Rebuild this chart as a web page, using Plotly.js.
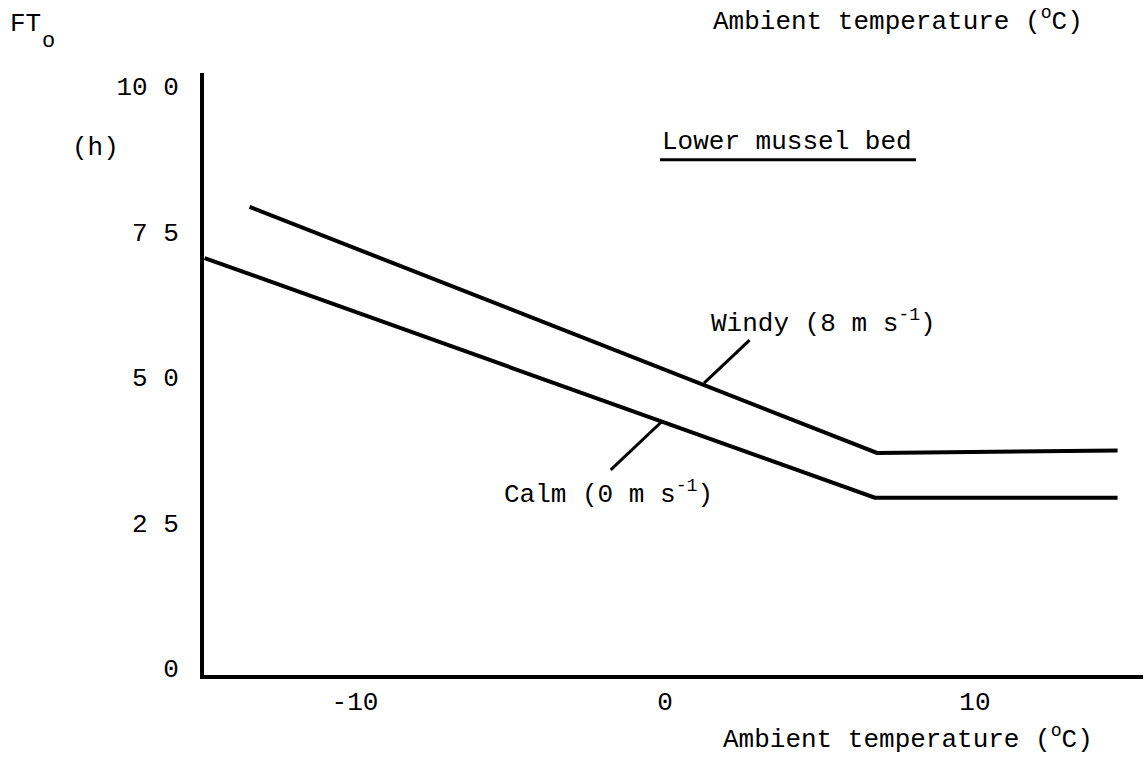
<!DOCTYPE html>
<html><head><meta charset="utf-8">
<script src="https://cdn.plot.ly/plotly-3.0.1.min.js"></script>
<style>html,body{margin:0;padding:0;background:#fff}</style>
</head><body><div id="chart" style="width:1147px;height:761px"></div>
<script>
// Data
const windyX = [-13.4, 6.84, 14.6];
const windyY = [7.93, 3.70, 3.74];
const calmX = [-14.85, 6.77, 14.6];
const calmY = [7.05, 2.93, 2.93];
const xTickVals = [-10, 0, 10];
const xTickText = ['-10', '0', '10'];
const yTickVals = [0, 2.5, 5, 7.5, 10];
const yTickText = ['0', '2 5', '5 0', '7 5', '10 0'];

const FONT = 'Liberation Mono, Courier New, monospace';
const FS = 26;
const L = 204, R = 1143, T = 73, B = 675;
const px = x => (x - L) / (R - L);
const py = y => (B - y) / (B - T);

const lineStyle = {color: '#000', width: 4};
const traces = [
  {x: windyX, y: windyY, mode: 'lines', line: lineStyle, name: 'Windy (8 m s-1)', hoverinfo: 'skip'},
  {x: calmX, y: calmY, mode: 'lines', line: lineStyle, name: 'Calm (0 m s-1)', hoverinfo: 'skip'}
];

const ann = (text, x, y, xref, yref, xanchor, size) => ({
  text, x, y, xref, yref, xanchor, yanchor: 'middle', showarrow: false,
  font: {family: FONT, size: size || FS, color: '#000'}
});

const layout = {
  width: 1147, height: 761,
  margin: {l: L, r: 1147 - R, t: T, b: 761 - B, pad: 0},
  paper_bgcolor: '#fff', plot_bgcolor: '#fff',
  showlegend: false,
  font: {family: FONT, size: FS, color: '#000'},
  xaxis: {
    range: [-14.87, 15.42], showgrid: false, zeroline: false,
    showline: true, linecolor: '#000', linewidth: 4,
    tickmode: 'array', tickvals: xTickVals, ticktext: xTickText,
    ticks: '', ticklabelstandoff: 0,
    tickfont: {family: FONT, size: FS, color: '#000'}
  },
  yaxis: {
    range: [-0.117, 10.23], showgrid: false, zeroline: false,
    showline: true, linecolor: '#000', linewidth: 4,
    tickmode: 'array', tickvals: yTickVals, ticktext: yTickText,
    ticks: '', ticklabelstandoff: 16,
    tickfont: {family: FONT, size: FS, color: '#000'}
  },
  shapes: [
    {type: 'line', xref: 'x', yref: 'y', x0: 2.73, y0: 5.64, x1: 1.26, y1: 4.90, line: {color: '#000', width: 3}},
    {type: 'line', xref: 'x', yref: 'y', x0: -1.75, y0: 3.41, x1: -0.10, y1: 4.24, line: {color: '#000', width: 3}},
    {type: 'line', xref: 'x', yref: 'y', x0: -0.16, y0: 8.74, x1: 8.1, y1: 8.74, line: {color: '#000', width: 3}}
  ],
  annotations: [
    ann('Windy (8 m s<sup>-1</sup>)', 1.42, 5.95, 'x', 'y', 'left'),
    ann('Calm (0 m s<sup>-1</sup>)', -5.26, 3.01, 'x', 'y', 'left'),
    ann('Lower mussel bed', -0.16, 9.05, 'x', 'y', 'left'),
    ann('FT', px(8), py(24), 'paper', 'paper', 'left'),
    ann('o', px(40), py(42), 'paper', 'paper', 'left', 22),
    ann('(h)', px(95), py(148), 'paper', 'paper', 'center'),
    ann('Ambient temperature (<sup>o</sup>C)', px(898), py(20), 'paper', 'paper', 'center'),
    ann('Ambient temperature (<sup>o</sup>C)', px(908), py(738), 'paper', 'paper', 'center')
  ]
};

Plotly.newPlot('chart', traces, layout, {displayModeBar: false, staticPlot: true});
</script></body></html>
